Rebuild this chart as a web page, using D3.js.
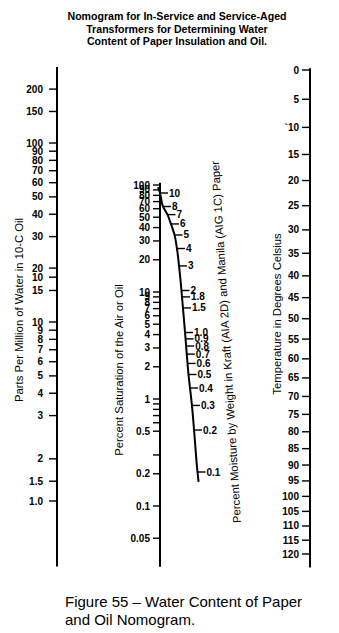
<!DOCTYPE html>
<html lang="en">
<head>
<meta charset="utf-8">
<title>Water Content of Paper and Oil Nomogram</title>
<script src="https://d3js.org/d3.v7.min.js"></script>
<style>
  body { margin: 0; background: #fff; }
  svg text { font-family: Arial, "Liberation Sans", sans-serif; fill: #000; }
  .tick-label { font-size: 10px; font-weight: bold; }
  .axis-title { font-size: 11.3px; }
</style>
</head>
<body>
<div class="chart"></div>
<script>
// ppm of water in oil (left scale); two labels sit off their nominal spot
const ppmTicks  = [200, 150, 100, 90, 80, 70, 60, 50, 40, 30, 20, 17.8, 15, 10, 9, 8, 7, 6, 5, 4, 3, 1.72, 1.29, 1];
const ppmLabels = ["200", "150", "100", "90", "80", "70", "60", "50", "40", "30", "20", "10", "15", "10", "9", "8", "7", "6", "5", "4", "3", "2", "1.5", "1.0"];
const ppmExtent = [0.43, 266];

// percent saturation of air or oil (middle scale)
const satTicks  = [100, 90, 80, 70, 60, 50, 40, 30, 20, 10, 9, 8, 7, 6, 5, 4, 3, 2, 1, 0.9, 0.8, 0.7, 0.6, 0.5, 0.3, 0.2, 0.1, 0.05];
const satLabels = ["100", "90", "80", "70", "60", "50", "40", "30", "20", "10", "9", "8", "7", "6", "5", "4", "3", "2", "1", "", "", "", "", "0.5", "", "0.2", "0.1", "0.05"];
const satExtent = [0.027, 105];

// percent moisture in paper (curved scale): moisture value and its position between middle and right scale
const paperCurveM = [11, 10, 8, 7, 6, 5, 4, 3, 2, 1.5, 1, 0.5, 0.3, 0.2, 0.1, 0.085];
const paperCurveU = [-0.013, 0, 0.02, 0.05, 0.073, 0.097, 0.113, 0.127, 0.143, 0.153, 0.167, 0.19, 0.213, 0.227, 0.25, 0.257];
const paperTicks  = [10, 8, 7, 6, 5, 4, 3, 2, 1.8, 1.5, 1, 0.9, 0.8, 0.7, 0.6, 0.5, 0.4, 0.3, 0.2, 0.1];
const paperLabels = ["10", "8", "7", "6", "5", "4", "3", "2", "1.8", "1.5", "1.0", "0.9", "0.8", "0.7", "0.6", "0.5", "0.4", "0.3", "0.2", "0.1"];

// temperature (right scale)
const tempTicks  = [0, 5, 10, 15, 20, 25, 30, 35, 40, 45, 50, 55, 60, 65, 70, 75, 80, 85, 90, 95, 100, 105, 110, 115, 120];
const tempLabels = ["0", "5", "`10", "15", "20", "25", "30", "35", "40", "45", "50", "55", "60", "65", "70", "75", "80", "85", "90", "95", "100", "105", "110", "115", "120"];
const tempExtent = [-0.3, 125];

const titleLines = ["Nomogram for In-Service and Service-Aged", "Transformers for Determining Water", "Content of Paper Insulation and Oil."];
const captionLines = ["Figure 55 \u2013 Water Content of Paper", "and Oil Nomogram."];

const width = 339, height = 633;

const svg = d3.select(".chart").append("svg")
  .attr("width", width)
  .attr("height", height);

// axis x positions
const xPpm = 57, xSat = 160, xTemp = 310;

const ppmScale = d3.scaleLog().domain([1, 100]).range([501, 143]);
const satScale = d3.scaleLog().domain([0.1, 100]).range([506, 185]);
const paperY = d3.scaleLog().domain([10, 0.1]).range([193, 472]);
const paperU = d3.scaleLog().domain(paperCurveM).range(paperCurveU);
const uScale = d3.scaleLinear().domain([0, 1]).range([xSat, xTemp]);
// temperature scale is linear in 1/(T + 250)
const invTemp = d3.scaleLinear().domain([1 / 250, 1 / 370]).range([70, 554]);
const tempScale = t => invTemp(1 / (t + 250));

function drawAxis(x, yOf, ticks, labels, extent, tickLen, pad) {
  const g = svg.append("g").attr("transform", `translate(${x},0)`);
  g.append("line")
    .attr("x1", 0).attr("x2", 0)
    .attr("y1", yOf(extent[0])).attr("y2", yOf(extent[1]))
    .attr("stroke", "#000").attr("stroke-width", 2);
  const t = g.selectAll(".tk").data(ticks).enter().append("g")
    .attr("transform", d => `translate(0,${yOf(d)})`);
  t.append("line")
    .attr("x1", -tickLen).attr("x2", 0)
    .attr("stroke", "#000").attr("stroke-width", 1.4);
  t.append("text")
    .attr("class", "tick-label")
    .attr("x", -tickLen - pad)
    .attr("dy", "0.35em")
    .attr("text-anchor", "end")
    .text((d, i) => labels[i]);
}

drawAxis(xPpm, ppmScale, ppmTicks, ppmLabels, ppmExtent, 8, 6);
drawAxis(xSat, satScale, satTicks, satLabels, satExtent, 7, 3);
drawAxis(xTemp, tempScale, tempTicks, tempLabels, tempExtent, 8, 3);

// curved paper moisture scale
const curve = d3.line()
  .x(m => uScale(paperU(m)))
  .y(m => paperY(m))
  .curve(d3.curveMonotoneY);

svg.append("path")
  .attr("d", curve(paperCurveM))
  .attr("fill", "none")
  .attr("stroke", "#000")
  .attr("stroke-width", 2);

const pt = svg.selectAll(".ptk").data(paperTicks).enter().append("g")
  .attr("transform", d => `translate(${uScale(paperU(d))},${paperY(d)})`);
pt.append("line")
  .attr("x1", 0).attr("x2", 8)
  .attr("stroke", "#000").attr("stroke-width", 1.4);
pt.append("text")
  .attr("class", "tick-label")
  .attr("x", 9)
  .attr("dy", "0.35em")
  .text((d, i) => paperLabels[i]);

// axis titles
svg.append("text").attr("class", "axis-title")
  .attr("transform", "translate(19,310) rotate(-90)")
  .attr("text-anchor", "middle").attr("dy", "0.35em")
  .text("Parts Per Million of Water in 10-C Oil");

svg.append("text").attr("class", "axis-title")
  .attr("transform", "translate(119,370) rotate(-90)")
  .attr("text-anchor", "middle").attr("dy", "0.35em")
  .text("Percent Saturation of the Air or Oil");

svg.append("text").attr("class", "axis-title")
  .attr("transform", "translate(226,342) rotate(-93.5)")
  .attr("text-anchor", "middle").attr("dy", "0.35em")
  .text("Percent Moisture by Weight in Kraft (AIA 2D) and Manila (AIG 1C) Paper");

svg.append("text").attr("class", "axis-title")
  .attr("transform", "translate(277,314) rotate(-90)")
  .attr("text-anchor", "middle").attr("dy", "0.35em")
  .text("Temperature in Degrees Celsius");

// title
svg.selectAll(".title").data(titleLines).enter().append("text")
  .attr("x", 177)
  .attr("y", (d, i) => 20 + i * 12.5)
  .attr("text-anchor", "middle")
  .attr("font-size", "10.6px")
  .attr("font-weight", "bold")
  .text(d => d);

// caption
svg.selectAll(".caption").data(captionLines).enter().append("text")
  .attr("x", 65)
  .attr("y", (d, i) => 607 + i * 18)
  .attr("font-size", "15px")
  .text(d => d);
</script>
</body>
</html>
